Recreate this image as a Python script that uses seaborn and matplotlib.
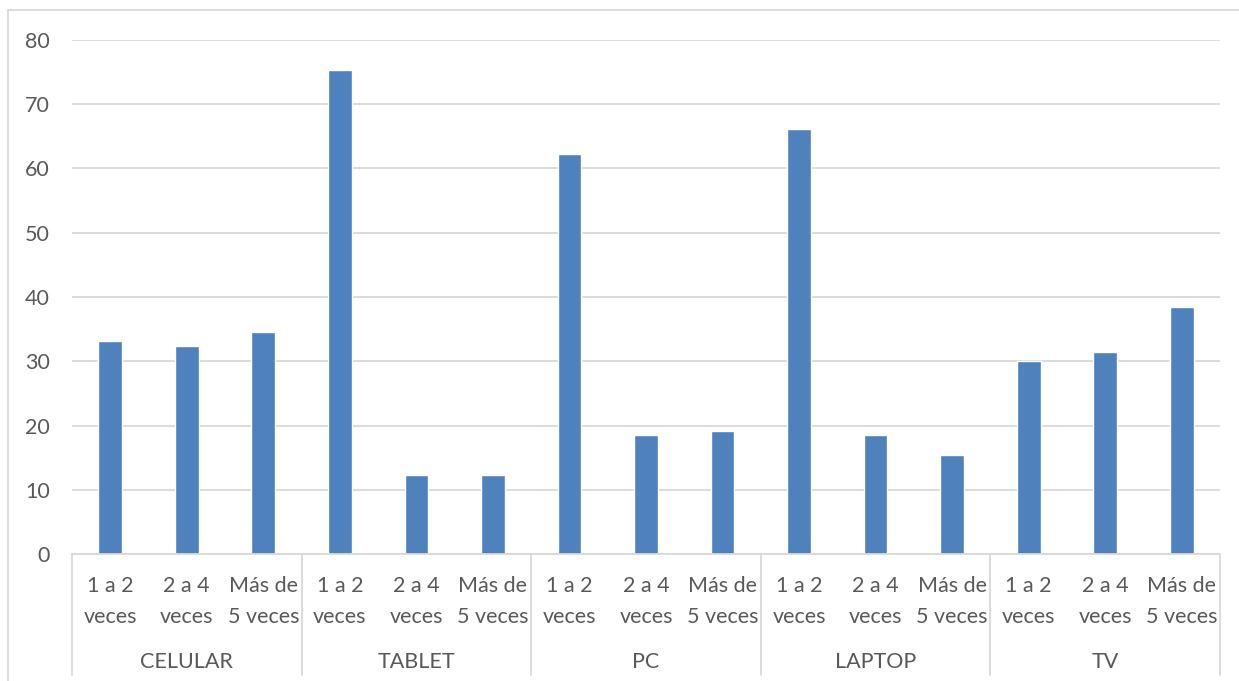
import matplotlib
matplotlib.use("Agg")
import matplotlib.pyplot as plt
from matplotlib.lines import Line2D
import matplotlib.transforms as mtransforms
import seaborn as sns
import pandas as pd

# Devices and visit-frequency buckets
devices = ["CELULAR", "TABLET", "PC", "LAPTOP", "TV"]
frequencies = ["1 a 2\nveces", "2 a 4\nveces", "Más de\n5 veces"]

# Percentage per device, one value per frequency bucket
celular = [33.1, 32.3, 34.6]
tablet = [75.4, 12.3, 12.3]
pc = [62.3, 18.5, 19.2]
laptop = [66.2, 18.5, 15.4]
tv = [30.0, 31.5, 38.5]

y_ticks = [0, 10, 20, 30, 40, 50, 60, 70, 80]

series = [celular, tablet, pc, laptop, tv]
rows = []
for dev, vals in zip(devices, series):
    for freq, v in zip(frequencies, vals):
        rows.append({"key": f"{dev}|{freq}", "device": dev, "freq": freq, "value": v})
df = pd.DataFrame(rows)
order = list(df["key"])

sns.set_theme(style="white")
plt.rcParams["font.family"] = ["Lato", "DejaVu Sans"]

W, H = 1239, 681
fig = plt.figure(figsize=(W / 100, H / 100), dpi=100)
left, right, base, top = 72, 1220, 554, 40
ax = fig.add_axes([left / W, (H - base) / H, (right - left) / W, (base - top) / H])

sns.barplot(data=df, x="key", y="value", order=order, color="#4f81bd",
            saturation=1, width=0.31, ax=ax, errorbar=None)

text_color = "#595959"
grid_color = "#d9d9d9"
fs = 15.5

ax.set_ylim(0, 80)
ax.set_xlim(-0.5, len(order) - 0.5)
ax.set_yticks(y_ticks)
ax.set_yticklabels([str(t) for t in y_ticks], color=text_color, fontsize=fs)
ax.yaxis.grid(True, color=grid_color, linewidth=1.3)
ax.set_axisbelow(True)
ax.tick_params(axis="y", length=0, pad=16)
ax.tick_params(axis="x", length=0, pad=16)
ax.set_xticks(range(len(order)))
ax.set_xticklabels(list(df["freq"]), color=text_color, fontsize=fs, linespacing=1.7)
ax.set_xlabel("")
ax.set_ylabel("")
for s in ["top", "right", "left"]:
    ax.spines[s].set_visible(False)
ax.spines["bottom"].set_color(grid_color)
ax.spines["bottom"].set_linewidth(1.3)

# Group separators and device labels under the axis
axh = base - top
trans = mtransforms.blended_transform_factory(ax.transData, ax.transAxes)
n = len(frequencies)
for i in range(len(devices) + 1):
    xpos = i * n - 0.5
    ax.add_line(Line2D([xpos, xpos], [0, -(675 - base) / axh], transform=trans,
                       color=grid_color, linewidth=1.3, clip_on=False))
for i, dev in enumerate(devices):
    ax.text(i * n + (n - 1) / 2, -(662 - base) / axh, dev, transform=trans,
            ha="center", va="center", color=text_color, fontsize=fs)

# Chart frame
fig.add_artist(Line2D([8 / W, 8 / W], [0, 1 - 10 / H], transform=fig.transFigure,
                      color=grid_color, linewidth=1.3))
fig.add_artist(Line2D([8 / W, 1], [1 - 10 / H, 1 - 10 / H], transform=fig.transFigure,
                      color=grid_color, linewidth=1.3))

fig.savefig("out.png", dpi=100, facecolor="white")
